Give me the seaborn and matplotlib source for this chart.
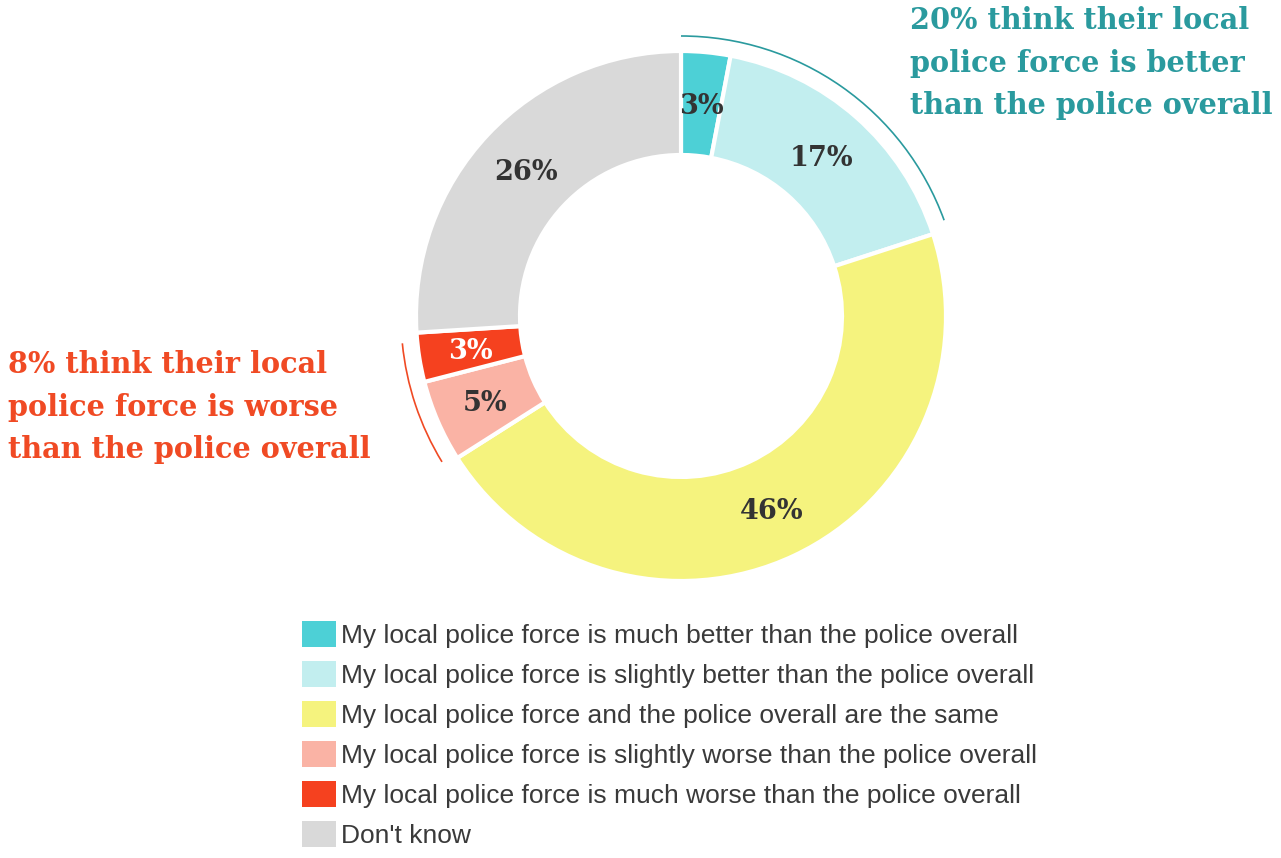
import numpy as np
import matplotlib
matplotlib.use("Agg")
import matplotlib.pyplot as plt
from matplotlib.patches import Arc, Patch
import seaborn as sns

categories = [
    "My local police force is much better than the police overall",
    "My local police force is slightly better than the police overall",
    "My local police force and the police overall are the same",
    "My local police force is slightly worse than the police overall",
    "My local police force is much worse than the police overall",
    "Don't know",
]
values = [3, 17, 46, 5, 3, 26]
value_labels = ["3%", "17%", "46%", "5%", "3%", "26%"]
colors = ["#4dd0d6", "#c2eeef", "#f5f37e", "#fab3a5", "#f5411f", "#d9d9d9"]
label_colors = ["#333333", "#333333", "#333333", "#333333", "#ffffff", "#333333"]
better_note = "20% think their local\npolice force is better\nthan the police overall"
worse_note = "8% think their local\npolice force is worse\nthan the police overall"

sns.set_theme(style="white")
plt.rcParams["font.family"] = ["Liberation Sans", "DejaVu Sans"]

W, H = 1281, 858
fig = plt.figure(figsize=(W / 100, H / 100), dpi=100)

cx, cy, R = 681, 316, 265
lim = 1.12
half = R * lim
ax = fig.add_axes([(cx - half) / W, 1 - (cy + half) / H, 2 * half / W, 2 * half / H])

inner = 161 / R
width = 1 - inner
wedges, _ = ax.pie(values, colors=colors, startangle=90, counterclock=False,
                   radius=1, wedgeprops=dict(width=width, edgecolor="white", linewidth=3),
                   normalize=True)
ax.set_xlim(-lim, lim)
ax.set_ylim(-lim, lim)
ax.set_aspect("equal")
ax.axis("off")

total = sum(values)
cum = np.cumsum([0] + values)
mid_r = (1 + inner) / 2
serif = ["DejaVu Serif"]
for i, v in enumerate(values):
    frac = (cum[i] + v / 2) / total
    ang = np.deg2rad(90 - 360 * frac)
    ax.text(mid_r * np.cos(ang), mid_r * np.sin(ang) - 0.01, value_labels[i],
            ha="center", va="center", fontsize=19.5, fontweight="bold",
            family=serif, color=label_colors[i])

# annotation arcs
arc_r = 280 / R
b0, b1 = cum[0] / total, cum[2] / total
ax.add_patch(Arc((0, 0), 2 * arc_r, 2 * arc_r, theta1=90 - 360 * b1 + 2, theta2=90 - 360 * b0,
                 color="#2a9a9e", lw=1.2))
w0, w1 = cum[3] / total, cum[5] / total
ax.add_patch(Arc((0, 0), 2 * arc_r, 2 * arc_r, theta1=90 - 360 * w1 + 2, theta2=90 - 360 * w0 - 1,
                 color="#f04a24", lw=1.2))

fig.text(910 / W, 1 - 63 / H, better_note, ha="left", va="center", fontsize=20.7,
         fontweight="bold", family=serif, color="#2a9a9e", linespacing=1.6)
fig.text(8 / W, 1 - 407 / H, worse_note, ha="left", va="center", fontsize=20.7,
         fontweight="bold", family=serif, color="#f04a24", linespacing=1.6)

handles = [Patch(facecolor=c, edgecolor="none") for c in colors]
fs = 19
leg = fig.legend(handles, categories, loc="upper left",
                 bbox_to_anchor=(302 / W, 1 - 621 / H), bbox_transform=fig.transFigure,
                 frameon=False, fontsize=fs, handlelength=34 / (fs * 100 / 72),
                 handleheight=30 / (fs * 100 / 72),
                 handletextpad=0.2, labelspacing=0.495, borderpad=0, borderaxespad=0)
for t in leg.get_texts():
    t.set_color("#3a3a3a")

fig.savefig("out.png", dpi=100, facecolor="white")
